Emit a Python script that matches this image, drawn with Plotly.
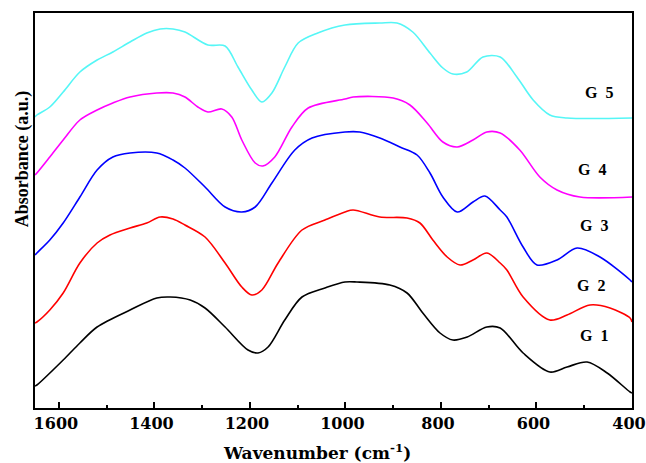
import plotly.graph_objects as go

# wavenumber (cm-1) / absorbance (a.u.)
g1_wn = [1650, 1646, 1591, 1556, 1520, 1451, 1395, 1367, 1325, 1294, 1252, 1204, 1183, 1162, 1127, 1091,
         1043, 1001, 976, 907, 871, 838, 802, 775, 745, 704, 676, 628, 572, 536, 494, 452, 404, 400]
g1_ab = [0.22, 0.23, 0.48, 0.65, 0.81, 0.98, 1.10, 1.11, 1.08, 1.00, 0.81, 0.58, 0.55, 0.61, 0.88, 1.11,
         1.20, 1.26, 1.26, 1.23, 1.15, 0.95, 0.75, 0.68, 0.71, 0.81, 0.80, 0.55, 0.36, 0.41, 0.46, 0.35, 0.16, 0.15]

g2_wn = [1650, 1646, 1619, 1591, 1556, 1520, 1493, 1451, 1416, 1388, 1361, 1336, 1294, 1252, 1217, 1196,
         1175, 1141, 1091, 1043, 1001, 984, 928, 871, 844, 817, 787, 760, 733, 704, 676, 662, 628, 572,
         536, 488, 446, 404, 400]
g2_ab = [0.85, 0.86, 0.98, 1.15, 1.45, 1.65, 1.73, 1.80, 1.85, 1.91, 1.89, 1.83, 1.71, 1.45, 1.21, 1.13,
         1.18, 1.45, 1.78, 1.88, 1.96, 1.98, 1.91, 1.90, 1.85, 1.68, 1.51, 1.43, 1.48, 1.55, 1.45, 1.38, 1.11, 0.88,
         0.93, 1.03, 1.00, 0.90, 0.86]

g3_wn = [1650, 1646, 1619, 1591, 1556, 1520, 1487, 1451, 1395, 1361, 1336, 1294, 1252, 1217, 1189, 1154,
         1106, 1070, 1001, 970, 928, 886, 850, 823, 796, 766, 733, 708, 676, 662, 628, 599, 557, 515,
         467, 404, 400]
g3_ab = [1.53, 1.55, 1.68, 1.85, 2.11, 2.38, 2.51, 2.55, 2.55, 2.48, 2.40, 2.21, 2.01, 1.96, 2.01, 2.25,
         2.58, 2.70, 2.76, 2.76, 2.70, 2.61, 2.53, 2.35, 2.11, 1.96, 2.06, 2.12, 1.98, 1.91, 1.61, 1.43, 1.48, 1.60,
         1.51, 1.28, 1.26]

g4_wn = [1650, 1646, 1619, 1591, 1556, 1520, 1487, 1451, 1395, 1361, 1336, 1309, 1288, 1259, 1238, 1217,
         1189, 1173, 1148, 1112, 1078, 1001, 984, 900, 865, 829, 796, 766, 733, 704, 676, 635, 593,
         557, 509, 400]
g4_ab = [2.33, 2.35, 2.51, 2.68, 2.88, 2.98, 3.05, 3.11, 3.15, 3.15, 3.11, 3.01, 2.96, 2.99, 2.91, 2.68,
         2.45, 2.42, 2.51, 2.81, 3.00, 3.09, 3.11, 3.10, 3.03, 2.85, 2.66, 2.61, 2.68, 2.76, 2.75, 2.58, 2.31,
         2.18, 2.11, 2.11]

g5_wn = [1650, 1646, 1619, 1591, 1556, 1520, 1487, 1451, 1416, 1388, 1361, 1336, 1288, 1252, 1225, 1196,
         1175, 1154, 1127, 1099, 1058, 1001, 928, 892, 859, 823, 796, 775, 746, 712, 676, 641, 607,
         572, 536, 400]
g5_ab = [2.91, 2.93, 3.01, 3.16, 3.36, 3.48, 3.56, 3.66, 3.75, 3.79, 3.79, 3.76, 3.63, 3.62, 3.41, 3.18,
         3.06, 3.15, 3.41, 3.65, 3.75, 3.83, 3.85, 3.85, 3.76, 3.55, 3.40, 3.34, 3.36, 3.51, 3.51, 3.31, 3.08,
         2.93, 2.90, 2.90]

names = ["G 1", "G 2", "G 3", "G 4", "G 5"]
colors = ["#000000", "#FF0000", "#0000FF", "#FF00FF", "#55F6F6"]
series = [(g1_wn, g1_ab), (g2_wn, g2_ab), (g3_wn, g3_ab), (g4_wn, g4_ab), (g5_wn, g5_ab)]

# label positions (wavenumber, absorbance)
label_pos = [(480, 0.73), (486, 1.23), (480, 1.83), (484, 2.39), (469, 3.16)]

fig = go.Figure()
for (wn, ab), name, col in zip(series, names, colors):
    fig.add_trace(go.Scatter(x=wn, y=ab, mode="lines", name=name,
                             line=dict(color=col, width=1.6, shape="spline", smoothing=0.9)))

for name, (lx, ly) in zip(names, label_pos):
    fig.add_annotation(x=lx, y=ly, text=name.replace(" ", "\u00a0\u00a0"), showarrow=False,
                       font=dict(family="Liberation Serif", size=16, color="black", weight="bold"))

# y title (sits above centre like the original)
fig.add_annotation(xref="paper", yref="paper", x=0, y=0.63, xshift=-13, xanchor="center", yanchor="middle",
                   textangle=-90, text="Absorbance (a.u.)", showarrow=False,
                   font=dict(family="Liberation Serif", size=18, color="black", weight="bold"))
# x title
fig.add_annotation(xref="paper", yref="paper", x=0.473, y=0, yshift=-44, xanchor="center", yanchor="middle",
                   text="Wavenumber (cm<sup>-1</sup>)", showarrow=False,
                   font=dict(family="DejaVu Serif", size=17, color="black", weight="bold"))

fig.update_layout(
    width=646, height=463,
    margin=dict(l=35, r=14, t=13, b=55),
    paper_bgcolor="white", plot_bgcolor="white",
    showlegend=False,
    xaxis=dict(range=[1650, 400], tickvals=[1600, 1400, 1200, 1000, 800, 600, 400],
               ticks="inside", ticklen=6, tickwidth=2, tickcolor="black",
               minor=dict(dtick=100, tick0=0, ticks="inside", ticklen=3, tickwidth=1.5, tickcolor="black"),
               showline=True, linecolor="black", linewidth=2, mirror=True,
               showgrid=False, zeroline=False, ticklabeloverflow="allow", automargin=False,
               ticklabelshift=3,
               tickfont=dict(family="DejaVu Serif", size=16, color="black", weight="bold")),
    yaxis=dict(range=[0, 3.95], showticklabels=False, ticks="", automargin=False,
               showline=True, linecolor="black", linewidth=2, mirror=True,
               showgrid=False, zeroline=False),
)

fig.write_html("out.html", config={"displayModeBar": False},
               post_script="document.body.style.margin='0';")
